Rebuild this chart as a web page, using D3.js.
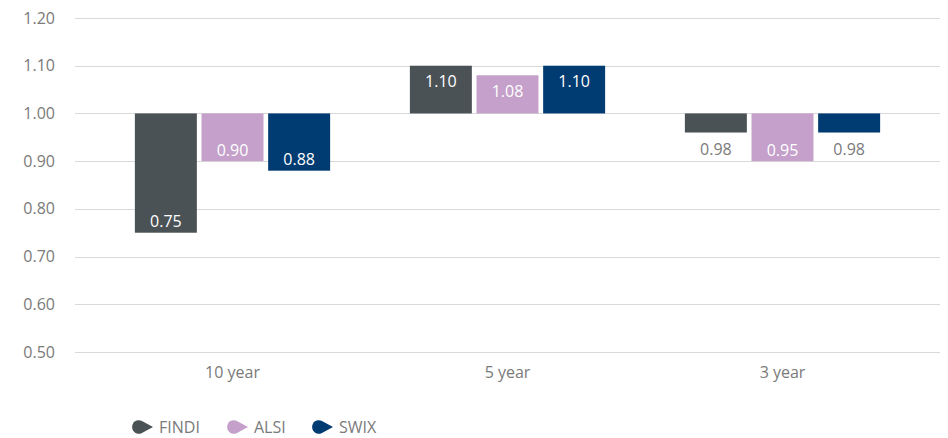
<!DOCTYPE html>
<html>
<head>
<meta charset="utf-8">
<script src="https://cdn.jsdelivr.net/npm/d3@7"></script>
<style>
  body { margin: 0; background: #fff; }
  text { font-family: "Open Sans", sans-serif; }
</style>
</head>
<body>
<script>
'use strict';

// chart data
const periods = ["10 year", "5 year", "3 year"];
const seriesNames = ["FINDI", "ALSI", "SWIX"];
const seriesColors = ["#4b5256", "#c4a0ca", "#003b71"];
// bar ends as drawn (per series, per period)
const barValues = [
  [0.75, 1.10, 0.96],
  [0.90, 1.08, 0.90],
  [0.88, 1.10, 0.96]
];
// data labels as printed on the chart
const barLabels = [
  ["0.75", "1.10", "0.98"],
  ["0.90", "1.08", "0.95"],
  ["0.88", "1.10", "0.98"]
];
const yTicks = [0.5, 0.6, 0.7, 0.8, 0.9, 1.0, 1.1, 1.2];
const baseline = 1.0;

const width = 948, height = 438;
const fontSize = '16px';
const textGrey = '#7a7a7a';

const svg = d3.select('body').append('svg')
  .attr('width', width)
  .attr('height', height);

// scales
const y = d3.scaleLinear().domain([0.5, 1.2]).range([352, 18]);
const x0 = d3.scaleBand().domain(periods).range([95, 920]).paddingInner(0.29).paddingOuter(0.145);
const x1 = d3.scaleBand().domain(seriesNames).range([0, x0.bandwidth()]).paddingInner(0.07);

// gridlines
svg.append('g')
  .selectAll('line')
  .data(yTicks)
  .join('line')
  .attr('x1', 75).attr('x2', 940)
  .attr('y1', d => Math.round(y(d)) + 0.5)
  .attr('y2', d => Math.round(y(d)) + 0.5)
  .attr('stroke', '#d9d9d9')
  .attr('stroke-width', 1);

// y axis labels
const yAxis = d3.axisLeft(y).tickValues(yTicks).tickFormat(d3.format('.2f')).tickSize(0).tickPadding(0);
svg.append('g')
  .attr('transform', 'translate(55,0)')
  .call(yAxis)
  .call(g => g.select('.domain').remove())
  .call(g => g.selectAll('text')
    .attr('fill', textGrey)
    .style('font-size', fontSize)
    .style('font-family', '"Open Sans", sans-serif'));

// x axis labels
const xAxis = d3.axisBottom(x0).tickSize(0).tickPadding(0);
svg.append('g')
  .attr('transform', 'translate(0,367)')
  .call(xAxis)
  .call(g => g.select('.domain').remove())
  .call(g => g.selectAll('text')
    .attr('fill', textGrey)
    .style('font-size', fontSize)
    .style('font-family', '"Open Sans", sans-serif'));

// flatten bars
const bars = [];
seriesNames.forEach((s, si) => {
  periods.forEach((p, pi) => {
    bars.push({ series: s, si: si, period: p, value: barValues[si][pi], label: barLabels[si][pi] });
  });
});

// draw bars
svg.append('g')
  .selectAll('rect')
  .data(bars)
  .join('rect')
  .attr('x', d => x0(d.period) + x1(d.series))
  .attr('width', x1.bandwidth())
  .attr('y', d => Math.min(y(d.value), y(baseline)))
  .attr('height', d => Math.abs(y(d.value) - y(baseline)))
  .attr('fill', d => seriesColors[d.si]);

// data labels: inside the bar end, or below it when the bar is too short
function labelInfo(d) {
  const yEnd = y(d.value);
  const h = Math.abs(yEnd - y(baseline));
  if (d.value >= baseline) return { y: yEnd + 16, inside: true };
  if (h < 25) return { y: yEnd + 17, inside: false };
  return { y: yEnd - 11, inside: true };
}

svg.append('g')
  .selectAll('text')
  .data(bars)
  .join('text')
  .attr('x', d => x0(d.period) + x1(d.series) + x1.bandwidth() / 2)
  .attr('y', d => labelInfo(d).y)
  .attr('dy', '0.35em')
  .attr('text-anchor', 'middle')
  .style('font-size', fontSize)
  .attr('fill', d => labelInfo(d).inside ? '#ffffff' : textGrey)
  .text(d => d.label);

// legend
const legendX = [139, 234, 319];
const legend = svg.append('g')
  .selectAll('g')
  .data(seriesNames)
  .join('g')
  .attr('transform', (d, i) => `translate(${legendX[i]},427)`);

legend.append('path')
  .attr('d', 'M14,0 L2.5,-6.3 A6.8,6.8 0 1 0 2.5,6.3 Z')
  .attr('fill', (d, i) => seriesColors[i]);

legend.append('text')
  .attr('x', 20)
  .attr('dy', '0.35em')
  .style('font-size', fontSize)
  .attr('fill', textGrey)
  .text(d => d);
</script>
</body>
</html>
